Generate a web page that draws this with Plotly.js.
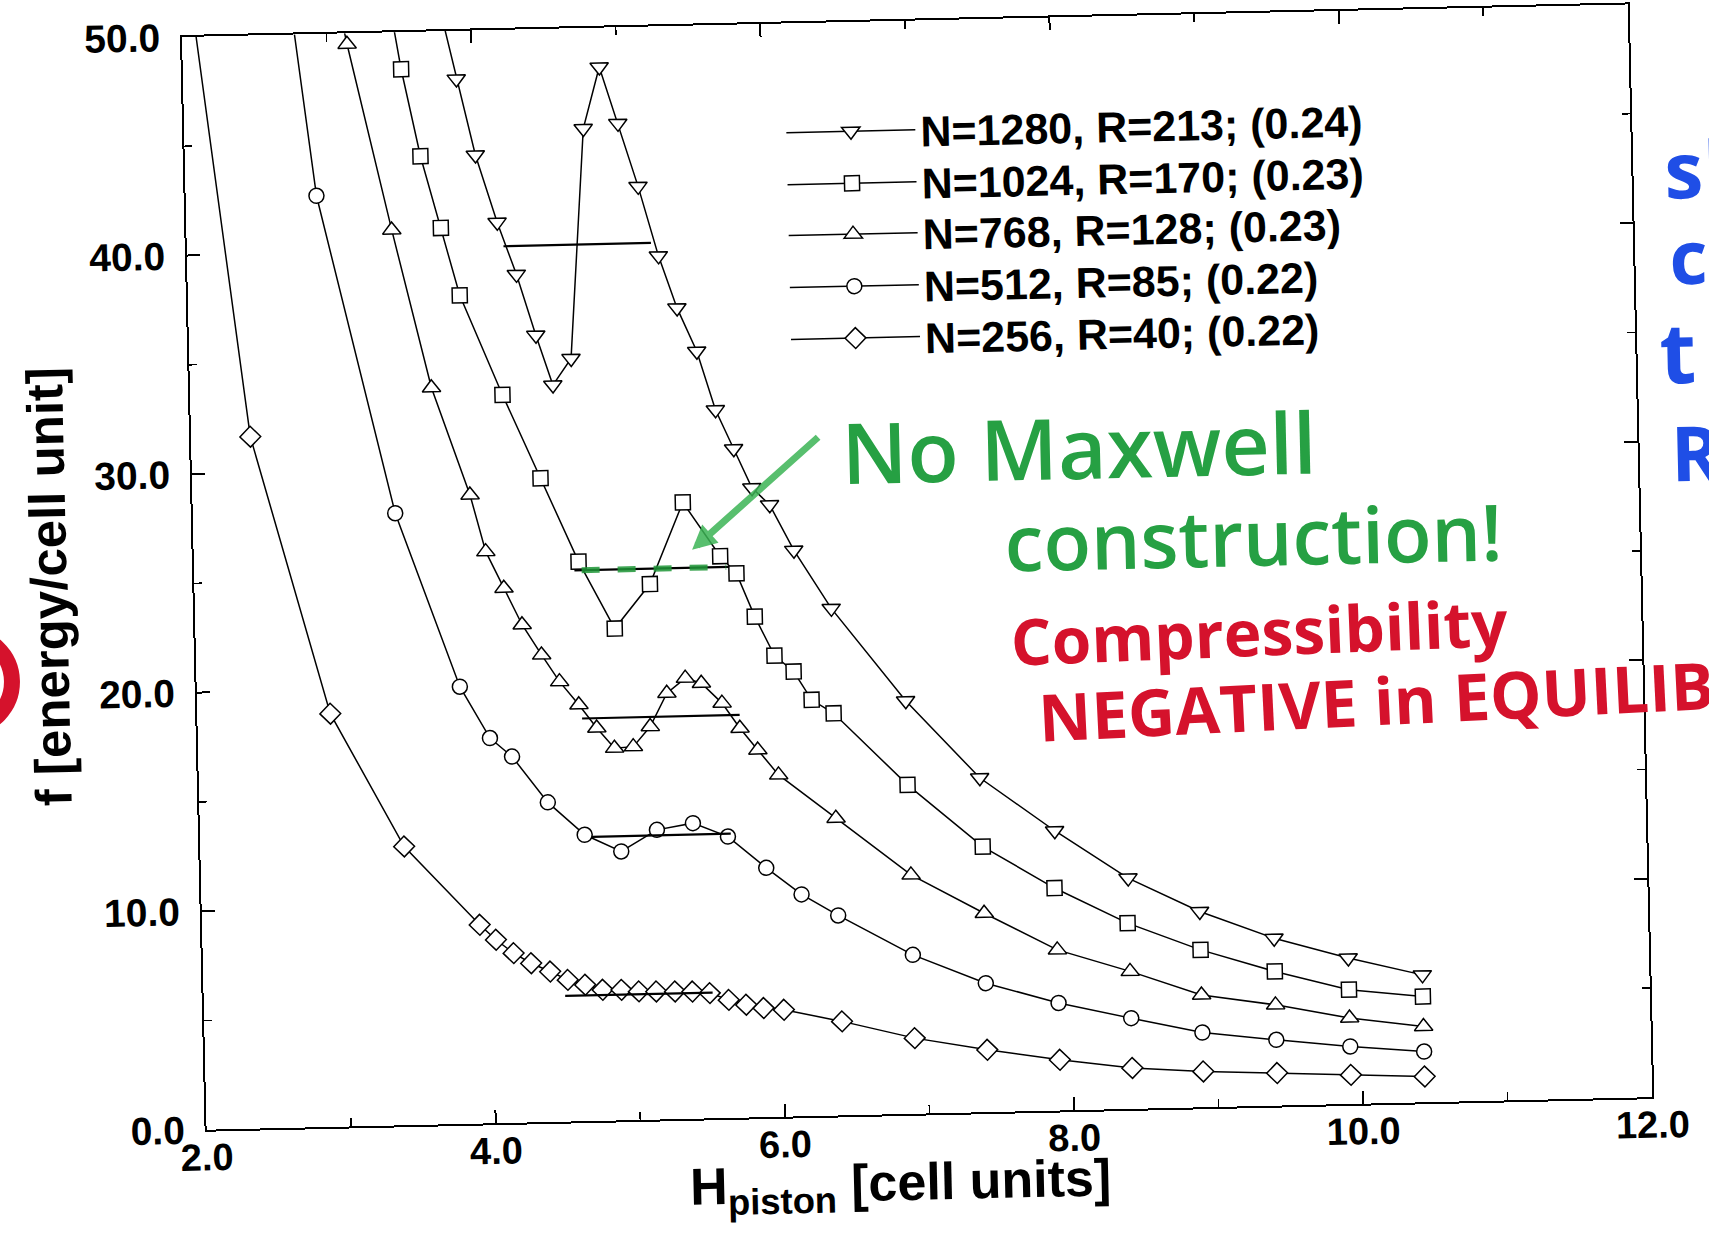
<!DOCTYPE html>
<html>
<head>
<meta charset="utf-8">
<script src="https://cdn.plot.ly/plotly-3.0.1.min.js"></script>
<style>
  html, body { margin:0; padding:0; background:#ffffff; overflow:hidden; width:1709px; height:1239px; }
  #plot { position:absolute; left:-100px; top:-100px; width:1909px; height:1439px;
          transform-origin: 282px 137px; transform: rotate(-1.29deg); }
</style>
</head>
<body>
<div id="plot"></div>
<script>
// ---- data ----
const legendNames = [
  "N=1280, R=213; (0.24)",
  "N=1024, R=170; (0.23)",
  "N=768, R=128; (0.23)",
  "N=512, R=85; (0.22)",
  "N=256, R=40; (0.22)"
];
const symbols = ["triangle-down", "square", "triangle-up", "circle", "diamond"];

const h1280 = [3.39, 3.89, 4.01, 4.15, 4.275, 4.40, 4.51, 4.64, 4.76, 4.88, 5.00, 5.13, 5.26, 5.38, 5.51, 5.63, 5.75, 5.87, 5.99, 6.15, 6.40, 6.90, 7.40, 7.91, 8.41, 8.90, 9.41, 9.92, 10.43];
const f1280 = [63.0, 47.8, 44.3, 41.2, 38.8, 36.0, 33.7, 34.9, 45.4, 48.2, 45.6, 42.7, 39.5, 37.1, 35.1, 32.4, 30.6, 28.8, 28.0, 25.9, 23.2, 18.9, 15.3, 12.8, 10.56, 8.96, 7.66, 6.68, 5.83];

const h1024 = [3.38, 3.51, 3.63, 3.76, 3.88, 4.16, 4.41, 4.66, 4.90, 5.15, 5.39, 5.64, 5.75, 5.87, 6.00, 6.13, 6.25, 6.40, 6.90, 7.41, 7.90, 8.40, 8.90, 9.41, 9.92, 10.43];
const f1024 = [53.8, 48.3, 44.3, 41.0, 37.9, 33.3, 29.45, 25.6, 22.5, 24.5, 28.2, 25.7, 24.9, 22.9, 21.1, 20.35, 19.04, 18.4, 15.05, 12.15, 10.18, 8.5, 7.2, 6.14, 5.23, 4.84];

const h768 = [2.89, 3.14, 3.42, 3.67, 3.92, 4.02, 4.14, 4.26, 4.39, 4.51, 4.64, 4.76, 4.88, 5.01, 5.13, 5.25, 5.38, 5.49, 5.63, 5.75, 5.87, 6.01, 6.40, 6.91, 7.41, 7.91, 8.41, 8.90, 9.41, 9.92, 10.43];
const f768 = [58.0, 49.5, 40.96, 33.7, 28.76, 26.15, 24.46, 22.77, 21.37, 20.13, 19.05, 17.97, 17.03, 17.08, 17.98, 19.49, 20.16, 19.91, 18.98, 17.81, 16.8, 15.64, 13.6, 10.93, 9.1, 7.35, 6.29, 5.14, 4.61, 3.93, 3.47];

const h512 = [2.40, 2.905, 3.40, 3.82, 4.02, 4.17, 4.41, 4.66, 4.91, 5.16, 5.41, 5.65, 5.91, 6.15, 6.40, 6.91, 7.41, 7.91, 8.41, 8.90, 9.41, 9.92, 10.43];
const f512 = [72.0, 42.6, 28.0, 20.0, 17.62, 16.75, 14.62, 13.1, 12.3, 13.25, 13.52, 12.87, 11.4, 10.15, 9.15, 7.27, 5.9, 4.92, 4.15, 3.42, 3.01, 2.63, 2.32];

const h256 = [1.91, 2.41, 2.92, 3.41, 3.92, 4.03, 4.15, 4.27, 4.40, 4.52, 4.64, 4.76, 4.89, 5.01, 5.13, 5.26, 5.38, 5.50, 5.63, 5.75, 5.87, 6.01, 6.41, 6.91, 7.41, 7.91, 8.41, 8.90, 9.41, 9.92, 10.43];
const f256 = [61.0, 31.65, 18.9, 12.75, 9.09, 8.39, 7.76, 7.28, 6.88, 6.48, 6.24, 5.99, 5.97, 5.88, 5.86, 5.84, 5.82, 5.73, 5.40, 5.16, 4.99, 4.89, 4.30, 3.46, 2.85, 2.32, 1.87, 1.64, 1.49, 1.33, 1.18];

// horizontal (Maxwell) construction lines, one per series
const maxwellLevel = [40.1, 25.2, 18.42, 13.0, 5.75];
const maxwellFrom  = [4.19, 4.63, 4.66, 4.71, 4.50];
const maxwellTo    = [5.21, 5.70, 5.75, 5.67, 5.52];

const xTickVals = [2, 4, 6, 8, 10, 12];
const xTickText = ["2.0", "4.0", "6.0", "8.0", "10.0", "12.0"];
const yTickVals = [0, 10, 20, 30, 40, 50];
const yTickText = ["0.0", "10.0", "20.0", "30.0", "40.0", "50.0"];

// ---- build ----
const FONT = "Liberation Sans, Arial, Helvetica, sans-serif";
const seriesX = [h1280, h1024, h768, h512, h256];
const seriesY = [f1280, f1024, f768, f512, f256];
const markerSize = [16, 15, 16, 15, 16];
const legendIds = ["legend", "legend2", "legend3", "legend4", "legend5"];
const legendRowY = [0.900, 0.8524, 0.8058, 0.7582, 0.7107];

const traces = [];
for (let i = 0; i < seriesX.length; i++) {
  traces.push({
    x: seriesX[i], y: seriesY[i], name: legendNames[i], legend: legendIds[i],
    type: "scatter", mode: "lines+markers",
    line: { color: "black", width: 1.5 },
    marker: { symbol: symbols[i], size: markerSize[i], color: "white",
              line: { color: "black", width: 1.5 } }
  });
}
for (let i = 0; i < maxwellLevel.length; i++) {
  traces.push({
    x: [maxwellFrom[i], maxwellTo[i]], y: [maxwellLevel[i], maxwellLevel[i]],
    type: "scatter", mode: "lines", showlegend: false, hoverinfo: "skip",
    line: { color: "black", width: 2.2 }
  });
}

const GREEN = "#26a043", RED = "#d5122c", BLUE = "#1f4ee6";
const HAND = "Open Sans, Lato, sans-serif";

const layout = {
  width: 1909, height: 1439,
  margin: { l: 282, r: 181, t: 137, b: 209 },
  paper_bgcolor: "white", plot_bgcolor: "white",
  showlegend: true,
  xaxis: {
    range: [2, 12], tickvals: xTickVals, ticktext: xTickText,
    ticks: "inside", ticklen: 13, tickwidth: 2, tickcolor: "black",
    minor: { dtick: 1, tick0: 2, ticks: "inside", ticklen: 8, tickwidth: 1.5, tickcolor: "black" },
    showline: true, linecolor: "black", linewidth: 2, mirror: "ticks",
    showgrid: false, zeroline: false, ticklabelstandoff: -7,
    tickfont: { family: FONT, size: 38, color: "black", weight: 700 }
  },
  yaxis: {
    range: [0, 50], tickvals: yTickVals, ticktext: yTickText,
    ticks: "inside", ticklen: 13, tickwidth: 2, tickcolor: "black",
    minor: { dtick: 5, tick0: 0, ticks: "inside", ticklen: 8, tickwidth: 1.5, tickcolor: "black" },
    showline: true, linecolor: "black", linewidth: 2, mirror: "ticks",
    showgrid: false, zeroline: false, ticklabelstandoff: 12,
    tickfont: { family: FONT, size: 39, color: "black", weight: 700 },
    title: { text: "f [energy/cell unit]", standoff: 13,
             font: { family: FONT, size: 51, color: "black", weight: 700 } }
  },
  shapes: [
    { type: "line", xref: "x", yref: "y", layer: "above",
      x0: maxwellFrom[1] + 0.05, x1: maxwellTo[1] - 0.02, y0: maxwellLevel[1], y1: maxwellLevel[1],
      line: { color: "rgba(30,150,55,0.85)", width: 6, dash: "dash" } },
    { type: "circle", xref: "paper", yref: "paper", layer: "above",
      x0: -0.1926, x1: -0.1276, y0: 0.3716, y1: 0.4576,
      line: { color: RED, width: 16 } }
  ],
  annotations: [
    { xref: "paper", yref: "paper", x: 0.4789, y: -0.034, xanchor: "center", yanchor: "top",
      text: "H<sub>piston</sub> [cell units]", showarrow: false,
      font: { family: FONT, size: 52, color: "black", weight: 700 } },
    { xref: "paper", yref: "paper", x: 0.614, y: 0.6066, xanchor: "center", yanchor: "middle",
      text: "No Maxwell", showarrow: false, textangle: 0,
      font: { family: HAND, size: 84, color: GREEN, weight: 600 } },
    { xref: "paper", yref: "paper", x: 0.733, y: 0.5217, xanchor: "center", yanchor: "middle",
      text: "construction!", showarrow: false, textangle: 0,
      font: { family: HAND, size: 78, color: GREEN, weight: 600 } },
    { xref: "paper", yref: "paper", x: 0.7356, y: 0.4338, xanchor: "center", yanchor: "middle",
      text: "Compressibility", showarrow: false, textangle: -1,
      font: { family: HAND, size: 64, color: RED, weight: 700 } },
    { xref: "paper", yref: "paper", x: 0.5795, y: 0.3688, xanchor: "left", yanchor: "middle",
      text: "NEGATIVE in EQUILIB", showarrow: false, textangle: -1.5,
      font: { family: HAND, size: 65, color: RED, weight: 700 } },
    { xref: "paper", yref: "paper", x: 1.0215, y: 0.8487, xanchor: "left", yanchor: "middle",
      text: "sh", showarrow: false, font: { family: HAND, size: 78, color: BLUE, weight: 700 } },
    { xref: "paper", yref: "paper", x: 1.0235, y: 0.769, xanchor: "left", yanchor: "middle",
      text: "c", showarrow: false, font: { family: HAND, size: 74, color: BLUE, weight: 700 } },
    { xref: "paper", yref: "paper", x: 1.0150, y: 0.6824, xanchor: "left", yanchor: "middle",
      text: "t", showarrow: false, font: { family: HAND, size: 84, color: BLUE, weight: 700 } },
    { xref: "paper", yref: "paper", x: 1.0212, y: 0.59, xanchor: "left", yanchor: "middle",
      text: "R", showarrow: false, font: { family: HAND, size: 76, color: BLUE, weight: 700 } },
    { xref: "paper", yref: "paper", x: 0.3447, y: 0.5204, text: "",
      showarrow: true, axref: "pixel", ayref: "pixel", ax: 130, ay: -111,
      arrowcolor: "rgba(60,180,85,0.85)", arrowwidth: 7, arrowhead: 2, arrowsize: 0.7 }
  ]
};

for (let i = 0; i < legendIds.length; i++) {
  layout[legendIds[i]] = {
    x: 0.4129, y: legendRowY[i], xanchor: "left", yanchor: "middle",
    bgcolor: "rgba(0,0,0,0)", itemwidth: 129,
    font: { family: FONT, size: 43, color: "black", weight: 700 }
  };
}

Plotly.newPlot("plot", traces, layout, { displayModeBar: false, staticPlot: true });
</script>
</body>
</html>
